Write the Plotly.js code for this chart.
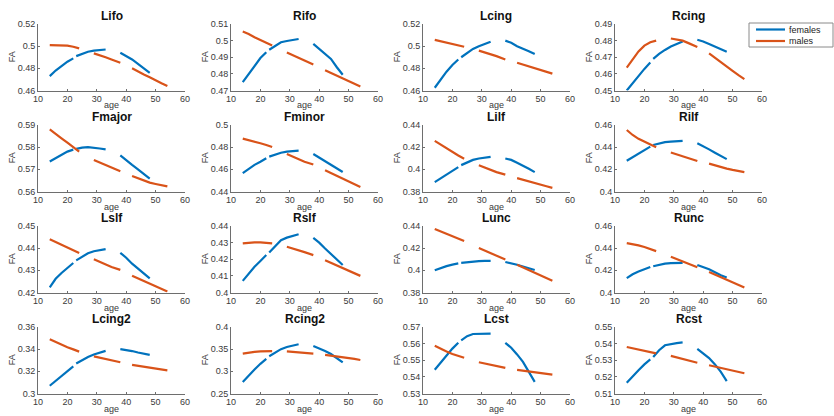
<!DOCTYPE html>
<html>
<head>
<meta charset="utf-8">
<script src="https://cdn.plot.ly/plotly-3.0.1.min.js"></script>
<style>
  html, body { margin: 0; padding: 0; background: #ffffff; }
  #chart { width: 834px; height: 416px; }
</style>
</head>
<body>
<div id="chart"></div>
<script>
// Fitted FA trajectories by age for each tract, females vs males.
const regions = ["Lifo", "Rifo", "Lcing", "Rcing",
                 "Fmajor", "Fminor", "Lilf", "Rilf",
                 "Lslf", "Rslf", "Lunc", "Runc",
                 "Lcing2", "Rcing2", "Lcst", "Rcst"];
const groupNames = ["females", "males"];

const femaleAge = [14, 16, 18, 20, 22, 23, 25, 27, 29, 31, 33, 38, 40, 42, 44, 46, 48];
const maleAge   = [14, 16, 18, 20, 22, 24, 29, 31, 33, 35, 38, 42, 44, 46, 48, 50, 52, 54];
// the fitted curves are drawn in pieces; a piece ends after these ages
const femaleBreaks = [22, 33];
const maleBreaks   = [24, 38];

const femaleLifo   = [0.473, 0.478, 0.482, 0.486, 0.489, 0.491, 0.493, 0.495, 0.496, 0.4965, 0.497, 0.494, 0.491, 0.488, 0.484, 0.480, 0.476];
const maleLifo     = [0.501, 0.501, 0.501, 0.5005, 0.4995, 0.498, 0.4935, 0.492, 0.490, 0.488, 0.485, 0.480, 0.477, 0.4745, 0.472, 0.469, 0.4665, 0.464];
const femaleRifo   = [0.475, 0.480, 0.485, 0.4895, 0.493, 0.4945, 0.497, 0.499, 0.4998, 0.5005, 0.501, 0.498, 0.495, 0.492, 0.489, 0.484, 0.4795];
const maleRifo     = [0.5055, 0.504, 0.502, 0.5005, 0.4987, 0.497, 0.4928, 0.4912, 0.4896, 0.488, 0.4856, 0.4822, 0.4805, 0.4788, 0.477, 0.4755, 0.474, 0.4724];
const femaleLcing  = [0.4625, 0.470, 0.477, 0.483, 0.488, 0.490, 0.494, 0.4975, 0.500, 0.502, 0.504, 0.505, 0.503, 0.500, 0.498, 0.4955, 0.493];
const maleLcing    = [0.5057, 0.5045, 0.503, 0.502, 0.5005, 0.4995, 0.496, 0.4944, 0.4928, 0.491, 0.488, 0.485, 0.4833, 0.4815, 0.4797, 0.478, 0.4765, 0.4752];
const femaleRcing  = [0.450, 0.4545, 0.459, 0.463, 0.4668, 0.469, 0.472, 0.4744, 0.4765, 0.478, 0.4795, 0.4805, 0.4795, 0.478, 0.4765, 0.475, 0.4733];
const maleRcing    = [0.4638, 0.469, 0.4735, 0.477, 0.479, 0.480, 0.4813, 0.4805, 0.480, 0.4785, 0.4762, 0.4723, 0.4698, 0.467, 0.4645, 0.4618, 0.4592, 0.4568];
const femaleFmajor = [0.5735, 0.575, 0.5765, 0.578, 0.5789, 0.5792, 0.5798, 0.580, 0.5798, 0.5794, 0.579, 0.5763, 0.574, 0.572, 0.570, 0.568, 0.5658];
const maleFmajor   = [0.588, 0.5862, 0.584, 0.582, 0.580, 0.578, 0.5742, 0.573, 0.572, 0.5708, 0.5691, 0.567, 0.566, 0.565, 0.564, 0.5634, 0.5628, 0.5623];
const femaleFminor = [0.4565, 0.4605, 0.464, 0.4668, 0.470, 0.4715, 0.4735, 0.475, 0.476, 0.4765, 0.4768, 0.4738, 0.4705, 0.4668, 0.4638, 0.4608, 0.4576];
const maleFminor   = [0.4877, 0.4865, 0.485, 0.4835, 0.482, 0.4802, 0.4738, 0.4713, 0.469, 0.4668, 0.4643, 0.4591, 0.4565, 0.454, 0.4515, 0.449, 0.4465, 0.444];
const femaleLilf   = [0.3885, 0.392, 0.3955, 0.399, 0.402, 0.4038, 0.4063, 0.4085, 0.4098, 0.4108, 0.4113, 0.4098, 0.4085, 0.406, 0.4035, 0.4005, 0.3975];
const maleLilf     = [0.4257, 0.4222, 0.419, 0.4158, 0.4125, 0.4096, 0.4036, 0.4015, 0.3995, 0.3975, 0.3952, 0.3921, 0.3905, 0.389, 0.3875, 0.386, 0.3847, 0.3833];
const femaleRilf   = [0.4277, 0.431, 0.434, 0.4375, 0.4405, 0.442, 0.4435, 0.4445, 0.445, 0.4455, 0.4457, 0.4435, 0.441, 0.438, 0.435, 0.432, 0.4292];
const maleRilf     = [0.4555, 0.451, 0.4475, 0.4448, 0.4425, 0.440, 0.4352, 0.4335, 0.4318, 0.4298, 0.4275, 0.4252, 0.4235, 0.422, 0.4207, 0.4195, 0.4185, 0.4175];
const femaleLslf   = [0.4223, 0.4262, 0.4288, 0.4312, 0.4333, 0.4345, 0.4362, 0.4377, 0.4386, 0.4392, 0.4396, 0.4379, 0.4357, 0.433, 0.4307, 0.4285, 0.4264];
const maleLslf     = [0.444, 0.4428, 0.4415, 0.4402, 0.439, 0.4378, 0.435, 0.4338, 0.4326, 0.4315, 0.4302, 0.4276, 0.4264, 0.4252, 0.424, 0.4228, 0.4216, 0.4205];
const femaleRslf   = [0.407, 0.4115, 0.4155, 0.419, 0.4225, 0.424, 0.428, 0.4315, 0.433, 0.434, 0.435, 0.4328, 0.430, 0.4265, 0.4233, 0.420, 0.4165];
const maleRslf     = [0.4295, 0.430, 0.4302, 0.4302, 0.430, 0.4295, 0.4275, 0.4265, 0.4255, 0.4243, 0.4225, 0.4194, 0.4178, 0.4162, 0.4146, 0.4131, 0.4115, 0.410];
const femaleLunc   = [0.400, 0.402, 0.4038, 0.4052, 0.4063, 0.4068, 0.4075, 0.408, 0.4083, 0.4085, 0.4085, 0.4075, 0.4065, 0.405, 0.4035, 0.402, 0.4003];
const maleLunc     = [0.4373, 0.4352, 0.433, 0.4308, 0.4286, 0.4264, 0.4202, 0.418, 0.4157, 0.4134, 0.4097, 0.405, 0.4025, 0.400, 0.3977, 0.3953, 0.393, 0.3906];
const femaleRunc   = [0.413, 0.4165, 0.419, 0.4213, 0.423, 0.4237, 0.425, 0.426, 0.4265, 0.4268, 0.4268, 0.4248, 0.4232, 0.421, 0.4183, 0.4155, 0.4135];
const maleRunc     = [0.4445, 0.4437, 0.4425, 0.441, 0.4393, 0.4373, 0.4323, 0.4303, 0.4283, 0.4262, 0.4228, 0.4185, 0.4162, 0.4138, 0.4114, 0.409, 0.4066, 0.4045];
const femaleLcing2 = [0.307, 0.3115, 0.316, 0.3205, 0.3245, 0.327, 0.330, 0.333, 0.3352, 0.337, 0.3385, 0.340, 0.3394, 0.3383, 0.337, 0.336, 0.3348];
const maleLcing2   = [0.349, 0.3465, 0.344, 0.3418, 0.3398, 0.3378, 0.3335, 0.3322, 0.3308, 0.3295, 0.3282, 0.3258, 0.325, 0.3242, 0.3234, 0.3225, 0.3216, 0.3208];
const femaleRcing2 = [0.276, 0.291, 0.304, 0.317, 0.328, 0.334, 0.343, 0.350, 0.355, 0.358, 0.361, 0.357, 0.352, 0.346, 0.339, 0.330, 0.320];
const maleRcing2   = [0.340, 0.3425, 0.344, 0.345, 0.3455, 0.3455, 0.345, 0.344, 0.343, 0.342, 0.340, 0.337, 0.3355, 0.334, 0.332, 0.330, 0.328, 0.3255];
const femaleLcst   = [0.5443, 0.5485, 0.553, 0.557, 0.5605, 0.562, 0.5645, 0.5658, 0.566, 0.566, 0.566, 0.5605, 0.5575, 0.5535, 0.549, 0.543, 0.537];
const maleLcst     = [0.5587, 0.5568, 0.5553, 0.5538, 0.5525, 0.5515, 0.5488, 0.5481, 0.5473, 0.5465, 0.5454, 0.5442, 0.5437, 0.5431, 0.5426, 0.5421, 0.5417, 0.5413];
const femaleRcst   = [0.5165, 0.5205, 0.524, 0.5275, 0.5305, 0.532, 0.536, 0.539, 0.5398, 0.5403, 0.5407, 0.5368, 0.534, 0.5313, 0.5275, 0.523, 0.5175];
const maleRcst     = [0.538, 0.5373, 0.5365, 0.5357, 0.5349, 0.5341, 0.5326, 0.5316, 0.5306, 0.5297, 0.5285, 0.527, 0.5262, 0.5254, 0.5246, 0.5238, 0.523, 0.5222];

const femaleFA = [femaleLifo, femaleRifo, femaleLcing, femaleRcing, femaleFmajor, femaleFminor, femaleLilf, femaleRilf,
                  femaleLslf, femaleRslf, femaleLunc, femaleRunc, femaleLcing2, femaleRcing2, femaleLcst, femaleRcst];
const maleFA   = [maleLifo, maleRifo, maleLcing, maleRcing, maleFmajor, maleFminor, maleLilf, maleRilf,
                  maleLslf, maleRslf, maleLunc, maleRunc, maleLcing2, maleRcing2, maleLcst, maleRcst];

// y-axis range [min, max] and tick step for each panel
const yMin  = [0.46, 0.47, 0.46, 0.45, 0.56, 0.44, 0.38, 0.40, 0.42, 0.40, 0.38, 0.40, 0.30, 0.25, 0.53, 0.51];
const yMax  = [0.52, 0.51, 0.52, 0.49, 0.59, 0.50, 0.44, 0.46, 0.45, 0.44, 0.44, 0.46, 0.36, 0.40, 0.57, 0.55];
const yStep = [0.02, 0.01, 0.02, 0.01, 0.01, 0.02, 0.02, 0.02, 0.01, 0.01, 0.02, 0.02, 0.02, 0.05, 0.01, 0.01];
const xTicks = [10, 20, 30, 40, 50, 60];

// pixel geometry of the 4x4 grid
const W = 834, H = 416;
const colLeft = [38, 231, 423, 615];
const colWidth = 147;
const rowTop = [24, 125, 226, 327];
const rowHeight = 66.5;

const BLUE = "#0072BD";
const ORANGE = "#D95319";
const FONT = "Liberation Sans, Arial, Helvetica, sans-serif";
const TEXT = "#3a3a3a";
const AXIS = "#6e6e6e";

function withBreaks(ages, vals, breaks) {
  const xs = [], ys = [];
  ages.forEach((a, k) => {
    xs.push(a); ys.push(vals[k]);
    if (breaks.includes(a)) { xs.push(a + 0.5); ys.push(null); }
  });
  return { xs, ys };
}

function tickList(lo, hi, step) {
  const vals = [];
  const n = Math.round((hi - lo) / step);
  for (let k = 0; k <= n; k++) vals.push(+(lo + k * step).toFixed(3));
  return vals;
}

const px = v => v / W;
const py = v => 1 - v / H;

const traces = [];
const layout = {
  width: W, height: H,
  margin: { l: 0, r: 0, t: 0, b: 0 },
  paper_bgcolor: "#ffffff",
  plot_bgcolor: "#ffffff",
  font: { family: FONT, size: 9, color: TEXT },
  showlegend: false,
  annotations: [],
  shapes: []
};

regions.forEach((name, i) => {
  const r = Math.floor(i / 4), c = i % 4;
  const sfx = i === 0 ? "" : String(i + 1);
  const xa = "x" + sfx, ya = "y" + sfx;

  const f = withBreaks(femaleAge, femaleFA[i], femaleBreaks);
  const m = withBreaks(maleAge, maleFA[i], maleBreaks);

  traces.push({
    x: f.xs, y: f.ys, xaxis: xa, yaxis: ya, type: "scatter", mode: "lines",
    name: groupNames[0], line: { color: BLUE, width: 2.2 }, connectgaps: false, hoverinfo: "skip"
  });
  traces.push({
    x: m.xs, y: m.ys, xaxis: xa, yaxis: ya, type: "scatter", mode: "lines",
    name: groupNames[1], line: { color: ORANGE, width: 2.2 }, connectgaps: false, hoverinfo: "skip"
  });

  const x0 = colLeft[c], x1 = colLeft[c] + colWidth;
  const y0 = rowTop[r], y1 = rowTop[r] + rowHeight;

  layout["xaxis" + sfx] = {
    domain: [px(x0), px(x1)], anchor: ya,
    range: [10, 60], tickvals: xTicks, ticktext: xTicks.map(String),
    showgrid: false, zeroline: false, showline: true, linecolor: AXIS, linewidth: 1,
    ticks: "inside", ticklen: 2, tickcolor: AXIS,
    tickfont: { family: FONT, size: 9, color: TEXT }, fixedrange: true
  };
  const yt = tickList(yMin[i], yMax[i], yStep[i]);
  layout["yaxis" + sfx] = {
    domain: [py(y1), py(y0)], anchor: xa,
    range: [yMin[i], yMax[i]], tickvals: yt, ticktext: yt.map(String),
    showgrid: false, zeroline: false, showline: true, linecolor: AXIS, linewidth: 1,
    ticks: "inside", ticklen: 2, tickcolor: AXIS,
    tickfont: { family: FONT, size: 9, color: TEXT }, fixedrange: true
  };

  // panel title
  layout.annotations.push({
    xref: "paper", yref: "paper", x: px((x0 + x1) / 2), y: py(y0 - 8),
    xanchor: "center", yanchor: "middle", showarrow: false, borderpad: 0,
    text: "<b>" + name + "</b>", font: { family: FONT, size: 12, color: "#111" }
  });
  // x-axis label
  layout.annotations.push({
    xref: "paper", yref: "paper", x: px((x0 + x1) / 2), y: py(y1 + 15),
    xanchor: "center", yanchor: "middle", showarrow: false, borderpad: 0,
    text: "age", font: { family: FONT, size: 9, color: TEXT }
  });
  // y-axis label
  layout.annotations.push({
    xref: "paper", yref: "paper", x: px(x0 - 26), y: py((y0 + y1) / 2),
    xanchor: "center", yanchor: "middle", showarrow: false, textangle: -90, borderpad: 0,
    text: "FA", font: { family: FONT, size: 9, color: TEXT }
  });
});

// compact legend box in the top-right corner
const legendBox = { left: 749, top: 23, right: 833, bottom: 47 };
const legendRows = [29.5, 41];
const legendColors = [BLUE, ORANGE];
layout.shapes.push({
  type: "rect", xref: "paper", yref: "paper",
  x0: px(legendBox.left), x1: px(legendBox.right), y0: py(legendBox.bottom), y1: py(legendBox.top),
  line: { color: "#8a8a8a", width: 1 }, fillcolor: "#ffffff"
});
groupNames.forEach((g, k) => {
  layout.shapes.push({
    type: "line", xref: "paper", yref: "paper",
    x0: px(756), x1: px(785), y0: py(legendRows[k]), y1: py(legendRows[k]),
    line: { color: legendColors[k], width: 2.2 }
  });
  layout.annotations.push({
    xref: "paper", yref: "paper", x: px(788), y: py(legendRows[k]),
    xanchor: "left", yanchor: "middle", showarrow: false, borderpad: 0,
    text: g, font: { family: FONT, size: 9, color: "#222" }
  });
});

Plotly.newPlot("chart", traces, layout, { displayModeBar: false, staticPlot: true });
</script>
</body>
</html>
